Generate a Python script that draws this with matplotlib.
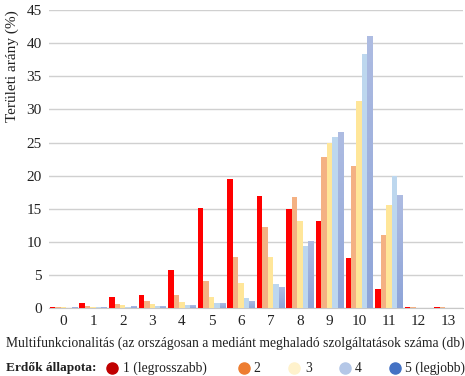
import numpy as np
import matplotlib.pyplot as plt
from matplotlib.lines import Line2D
from matplotlib.colors import LinearSegmentedColormap

plt.rcParams['font.family'] = ['Liberation Serif', 'DejaVu Serif']

categories = list(range(14))
s1 = [0.2, 0.8, 1.6, 1.9, 5.7, 15.05, 19.45, 16.9, 14.9, 13.1, 7.5, 2.8, 0.1, 0.1]
s2 = [0.1, 0.35, 0.65, 1.0, 1.9, 4.0, 7.7, 12.2, 16.7, 22.8, 21.4, 10.95, 0.1, 0.08]
s3 = [0.1, 0.1, 0.4, 0.55, 0.85, 1.6, 3.7, 7.7, 13.1, 24.9, 31.3, 15.5, 0.05, 0.05]
s4 = [0.05, 0.1, 0.1, 0.25, 0.4, 0.7, 1.45, 3.55, 9.3, 25.8, 38.4, 19.95, 0.05, 0.0]
s5 = [0.1, 0.1, 0.25, 0.25, 0.4, 0.7, 1.1, 3.1, 10.05, 26.6, 41.1, 17.0, 0.05, 0.0]
series = [s1, s2, s3, s4, s5]
labels = ['1 (legrosszabb)', '2', '3', '4', '5 (legjobb)']
bar_colors = ['#ff0000', '#f4b183', '#ffe699', '#bdd7ee', '#9caedc']
marker_colors = ['#c00000', '#ed7d31', '#fff2cc', '#b4c7e7', '#4472c4']
yticks = [0, 5, 10, 15, 20, 25, 30, 35, 40, 45]

fig = plt.figure(figsize=(4.65, 3.76), dpi=100)
ax = fig.add_axes([0.105, 0.181, 0.89, 0.792])

x = np.arange(len(categories))
w = 0.185
containers = []
for i, s in enumerate(series):
    containers.append(ax.bar(x + (i - 2) * w, s, width=w, color=bar_colors[i], zorder=3))

# gradient fill for the darker blue series (lighter at top, like the Excel original)
grad_cmap = LinearSegmentedColormap.from_list('blu', ['#8ea4d8', '#aebce2'])
grad = np.linspace(0, 1, 64).reshape(-1, 1)
for bar in containers[4]:
    x0, h = bar.get_x(), bar.get_height()
    if h <= 0:
        continue
    im = ax.imshow(grad, cmap=grad_cmap, origin='lower', aspect='auto',
                   extent=[x0, x0 + bar.get_width(), 0, h], zorder=3.5)
    im.set_clip_path(bar)

ax.set_xlim(-0.5, 13.5)
ax.set_ylim(0, 45)
ax.set_yticks(yticks)
ax.set_xticks(x)
ax.set_xticklabels([str(c) for c in categories])
ax.grid(axis='y', color='#d0d0d0', linewidth=1.0, zorder=0)
for sp in ['top', 'right', 'left']:
    ax.spines[sp].set_visible(False)
ax.spines['bottom'].set_color('#c8c8c8')
ax.tick_params(length=0, labelsize=11, colors='#222222', pad=5)

fig.text(0.027, 0.973, 'Területi arány (%)', rotation=90, va='top', ha='center',
         fontsize=11, color='#222222')
fig.text(0.505, 0.088, 'Multifunkcionalitás (az országosan a mediánt meghaladó szolgáltatások száma (db)',
         ha='center', va='center', fontsize=9.8, color='#222222')

# legend row
ly = 0.021
fig.text(0.013, ly, 'Erdők állapota:', fontweight='bold', va='center', fontsize=9.6, color='#222222')
mx = [112, 244, 294, 345, 395]
tx = [123, 253, 305, 355, 405]
for i in range(5):
    fig.add_artist(Line2D([mx[i] / 465], [ly], transform=fig.transFigure, marker='o', markersize=8,
                          color=marker_colors[i], linestyle='none'))
    fig.text(tx[i] / 465, ly, labels[i], va='center', fontsize=9.8, color='#222222')

fig.savefig('out.png', dpi=100)
